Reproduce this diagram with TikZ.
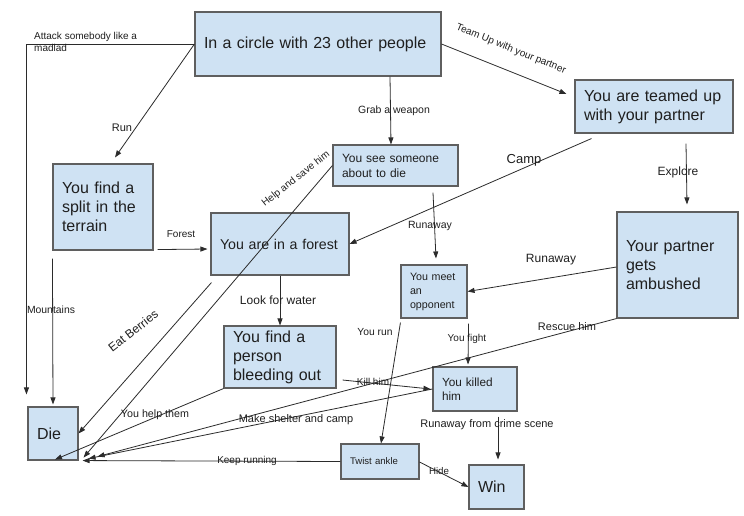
\documentclass[tikz,border=0pt]{standalone}
\usepackage{fontspec}
\setmainfont{Liberation Sans}
\usetikzlibrary{arrows.meta,calc}
\definecolor{boxfill}{HTML}{CFE2F3}
\definecolor{boxline}{HTML}{5F5F5F}
\definecolor{ink}{HTML}{1F1F1F}
\definecolor{wire}{HTML}{2B2B2B}
\begin{document}
\begin{tikzpicture}[x=1pt,y=-1pt,
  box/.style={draw=boxline,line width=1.1pt,fill=boxfill,inner xsep=9pt,inner ysep=0pt,align=left,text=ink,anchor=center},
  conn/.style={draw=wire,line width=0.8pt,-{Triangle[length=7pt,width=5pt]}},
  lbl/.style={text=ink,inner sep=0pt,font=\fontsize{10}{12}\selectfont},
  fbig/.style={font=\fontsize{16}{19}\selectfont},
]
\useasboundingbox[fill=white] (0,0) rectangle (744,515);

% boxes
\node[box,fbig,minimum width=246pt,minimum height=64pt,text width=228pt] (circle) at (318,44) {In a circle with 23 other people};
\node[box,fbig,minimum width=158pt,minimum height=53pt,text width=140pt] (teamed) at (654,106.5) {You are teamed up\\with your partner};
\node[box,fbig,minimum width=100pt,minimum height=86pt,text width=82pt] (split) at (103,207) {You find a\\split in the\\terrain};
\node[box,font=\fontsize{12}{15}\selectfont,minimum width=125pt,minimum height=41pt,text width=107pt] (see) at (395.5,165.5) {You see someone\\about to die};
\node[box,font=\fontsize{14.2}{17}\selectfont,minimum width=138pt,minimum height=62pt,text width=120pt] (forest) at (280,244) {You are in a forest};
\node[box,fbig,minimum width=121pt,minimum height=106pt,text width=103pt] (amb) at (677.5,265) {Your partner\\gets\\ambushed};
\node[box,font=\fontsize{10.7}{14}\selectfont,minimum width=66pt,minimum height=53pt,text width=48pt] (meet) at (434,291.5) {You meet\\an\\opponent};
\node[box,fbig,minimum width=112pt,minimum height=62pt,text width=94pt] (bleed) at (280,357) {You find a\\person\\bleeding out};
\node[box,font=\fontsize{11.8}{14.5}\selectfont,minimum width=84pt,minimum height=44pt,text width=66pt] (killed) at (475,389) {You killed\\him};
\node[box,fbig,minimum width=50pt,minimum height=53pt,text width=32pt] (die) at (53,433.5) {Die};
\node[box,font=\fontsize{9.6}{12}\selectfont,minimum width=78pt,minimum height=35pt,text width=60pt] (twist) at (380,461.5) {Twist ankle};
\node[box,fbig,minimum width=55pt,minimum height=44pt,text width=37pt] (win) at (496.5,487) {Win};

% connectors
\draw[conn] (circle.west) -| ([xshift=-1pt,yshift=12pt]die.north west);
\draw[conn] (circle.west) -- ([xshift=12pt,yshift=6pt]split.north);
\draw[conn] ([xshift=72pt]circle.south) -- ([xshift=-4.5pt]see.north);
\draw[conn] (circle.east) -- ([xshift=-8pt,yshift=12.5pt]teamed.west);
\draw[conn] ([xshift=17pt,yshift=-5pt]teamed.south west) -- (forest.east);
\draw[conn] ([xshift=32pt,yshift=-10pt]teamed.south) -- ([xshift=9.5pt,yshift=7pt]amb.north);
\draw[conn] ([xshift=4pt,yshift=1pt]split.south east) -- ([xshift=-3pt,yshift=-5pt]forest.west);
\draw[conn] (see.west) -- ([xshift=5pt,yshift=3pt]die.south east);
\draw[conn] ([yshift=-8pt]split.south west) -- ([yshift=2pt]die.north);
\draw[conn] ([xshift=1pt,yshift=-7pt]forest.south west) -- (die.east);
\draw[conn] (forest.south) -- (bleed.north);
\draw[conn] (bleed.south west) -- ([xshift=2pt,yshift=1pt]die.south);
\draw[conn] ([xshift=6pt,yshift=-23pt]bleed.east) -- ([xshift=-2pt]killed.west);
\draw[conn] (amb.south west) -- ([xshift=19pt,yshift=4pt]die.south east);
\draw[conn] (killed.west) -- ([xshift=10pt,yshift=2pt]die.south east);
\draw[conn] (twist.west) -- ([xshift=4pt]die.south east);
\draw[conn] ([xshift=37.5pt,yshift=-6pt]see.south) -- ([xshift=2pt,yshift=6pt]meet.north);
\draw[conn] ([yshift=-2pt]amb.west) -- (meet.east);
\draw[conn] ([yshift=-4pt]meet.south west) -- ([xshift=1pt]twist.north);
\draw[conn] ([xshift=1pt,yshift=-5pt]meet.south east) -- ([xshift=-7pt,yshift=2pt]killed.north);
\draw[conn] ([xshift=23pt,yshift=-5pt]killed.south) -- ([xshift=1.5pt,yshift=5pt]win.north);
\draw[conn] ([yshift=-0.5pt]twist.east) -- (win.west);

% labels
\node[lbl,anchor=north west,align=left,font=\fontsize{10}{12}\selectfont] (lattack) at (34,32) {Attack somebody like a\\madlad};
\node[lbl,font=\fontsize{11}{13}\selectfont] (lrun) at (122,128) {Run};
\node[lbl,font=\fontsize{10.5}{12}\selectfont] (lgrab) at (394,111) {Grab a weapon};
\node[lbl,rotate=-22] (lteam) at (511,49) {Team Up with your partner};
\node[lbl,font=\fontsize{13}{15}\selectfont] (lcamp) at (524,160) {Camp};
\node[lbl,font=\fontsize{12}{14}\selectfont] (lexplore) at (678,172) {Explore};
\node[lbl] (lforest) at (181,234) {Forest};
\node[lbl,rotate=38] (lhelp) at (296,179) {Help and save him};
\node[lbl,font=\fontsize{10.4}{12}\selectfont] (lmount) at (51,310) {Mountains};
\node[lbl,rotate=38,font=\fontsize{12}{14}\selectfont] (lberries) at (133,331) {Eat Berries};
\node[lbl,font=\fontsize{12}{14}\selectfont] (lwater) at (278,300) {Look for water};
\node[lbl,font=\fontsize{10.7}{12}\selectfont] (lhelpthem) at (155,415) {You help them};
\node[lbl] (lkill) at (373,382) {Kill him};
\node[lbl,font=\fontsize{11}{13}\selectfont] (lrescue) at (567,327) {Rescue him};
\node[lbl,font=\fontsize{11}{13}\selectfont] (lshelter) at (296,420) {Make shelter and camp};
\node[lbl] (lkeep) at (247,461) {Keep running};
\node[lbl,font=\fontsize{10.5}{12}\selectfont] (lrunaway1) at (430,226) {Runaway};
\node[lbl,font=\fontsize{12}{14}\selectfont] (lrunaway2) at (551,260) {Runaway};
\node[lbl,font=\fontsize{10.3}{12}\selectfont] (lyourun) at (375,332) {You run};
\node[lbl] (lfight) at (467,339) {You fight};
\node[lbl,font=\fontsize{11}{13}\selectfont] (lcrime) at (487,425) {Runaway from crime scene};
\node[lbl,font=\fontsize{9.7}{12}\selectfont] (lhide) at (439,471) {Hide};
\end{tikzpicture}
\end{document}
